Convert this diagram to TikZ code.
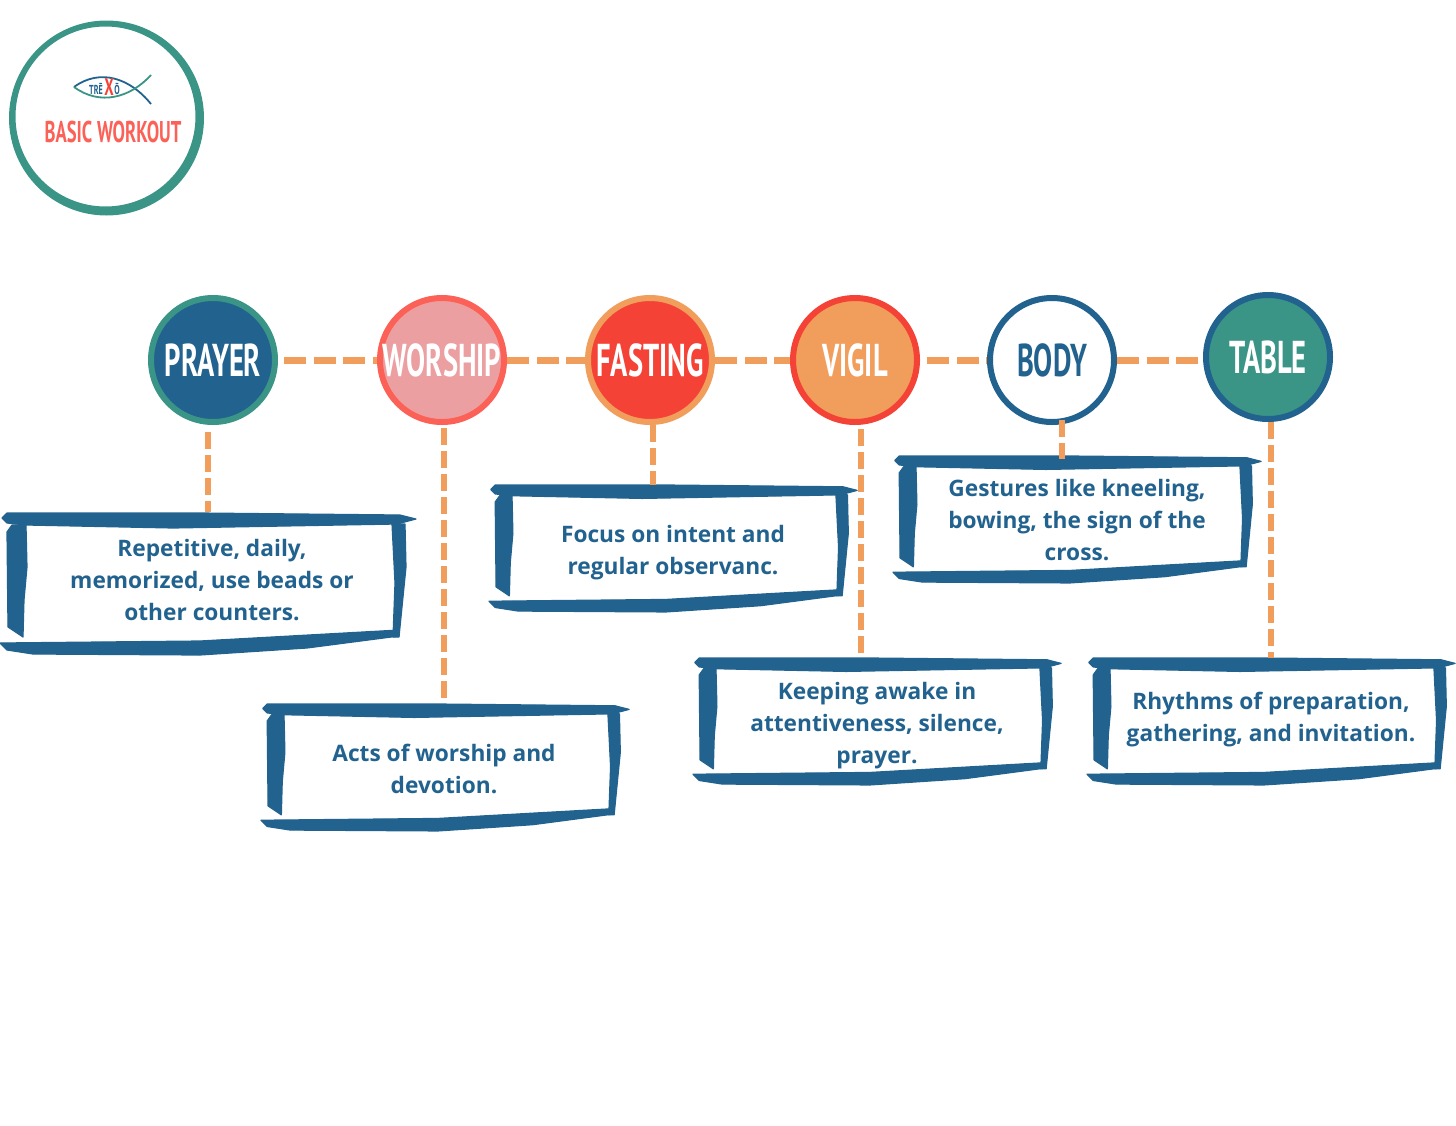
\documentclass[tikz,border=0pt]{standalone}
\usepackage{fontspec}
\setmainfont{Open Sans}
\newfontfamily\brushfont[FakeStretch=0.62]{PT Sans}
\definecolor{navy}{HTML}{22628F}
\definecolor{teal}{HTML}{3A9587}
\definecolor{coral}{HTML}{FB6157}
\definecolor{blush}{HTML}{EC9FA0}
\definecolor{flame}{HTML}{F44336}
\definecolor{amber}{HTML}{F19D5B}
\tikzset{
	stop/.style={circle, line width=6pt, minimum size=124pt, inner sep=0pt, text=white, font=\brushfont\bfseries\fontsize{46}{46}\selectfont},
	note/.style={inner sep=0pt, minimum width=300pt, align=center, text=navy, font=\bfseries\fontsize{22.7}{32}\selectfont},
	link/.style={color=amber, line width=7pt, dash pattern=on 22pt off 7.5pt},
	drop/.style={color=amber, line width=6pt, dash pattern=on 17pt off 6pt},
}
\def\brushframe(#1)(#2:#3){
	\begin{scope}[shift={(#1)}, xscale=#2, yscale=#3, fill=navy, draw=navy, line width=1.2pt, line join=round]
		\filldraw (2,5) -- (7,0) -- (200,0) -- (400,2) -- (416,6) -- (397,11) -- (173,15) -- (26,12) -- (7,10) -- cycle;
		\filldraw (12,12) -- (7,19) -- (8,114) -- (23,124) -- (24,87) -- (27,54) -- (26,12) -- cycle;
		\filldraw (392,11) -- (405,11) -- (406,54) -- (399,124) -- (393,124) -- (395,70) -- cycle;
		\filldraw (0,130) -- (200,128) -- (399,117) -- (399,123) -- (307,135) -- (200,142) -- (33,141) -- (7,137) -- cycle;
	\end{scope}
}

\begin{document}
\begin{tikzpicture}[x=1pt, y=-1pt]
	\useasboundingbox (0,0) rectangle (1456,1125);

	% badge
	\fill[teal, even odd rule] (106.5,118) circle (97.5) (105.5,116.5) circle (90);
	\draw[navy, line width=1.8pt] (74,87) .. controls (100,68) and (130,78) .. (151,104);
	\draw[teal, line width=1.8pt] (74,87) .. controls (100,106) and (130,98) .. (151,75);
	\node (trefish) [text=navy, font=\brushfont\bfseries\fontsize{13}{13}\selectfont] at (96,89) {TRĒ};
	\node (xfish) [text=flame, font=\brushfont\bfseries\fontsize{24}{24}\selectfont] at (109,87) {X};
	\node (ofish) [text=navy, font=\brushfont\bfseries\fontsize{13}{13}\selectfont] at (117,89) {Ō};
	\node (badge) [text=coral, font=\brushfont\bfseries\fontsize{30}{30}\selectfont] at (113,132) {BASIC WORKOUT};

	% stops
	\node (prayer) [stop, draw=teal, fill=navy] at (213,360) {PRAYER};
	\node (worship) [stop, draw=coral, fill=blush] at (442,360) {WORSHIP};
	\node (fasting) [stop, draw=amber, fill=flame] at (650,360) {FASTING};
	\node (vigil) [stop, draw=flame, fill=amber] at (855,360) {VIGIL};
	\node (body) [stop, draw=navy, fill=white, text=navy] at (1052,360) {BODY};
	\node (table) [stop, draw=navy, fill=teal] at (1268,357) {TABLE};

	% notes
	\brushframe(0,513)(1:1)
	\brushframe(261,704)(0.885:0.894)
	\brushframe(489,485)(0.885:0.894)
	\brushframe(693,658)(0.885:0.894)
	\brushframe(893,456)(0.885:0.894)
	\brushframe(1087,658)(0.885:0.894)

	\node (prayernote) [note, minimum height=136pt] at (212,580) {Repetitive, daily,\\memorized, use beads or\\other counters.};
	\node (worshipnote) [note, minimum height=132pt] at (444,769) {Acts of worship and\\devotion.};
	\node (fastingnote) [note, minimum height=136pt] at (673,553) {Focus on intent and\\regular observanc.};
	\node (vigilnote) [note, minimum height=136pt] at (877,726) {Keeping awake in\\attentiveness, silence,\\prayer.};
	\node (bodynote) [note, minimum height=122pt] at (1077,520) {Gestures like kneeling,\\bowing, the sign of the\\cross.};
	\node (tablenote) [note, minimum height=124pt] at (1271,720) {Rhythms of preparation,\\gathering, and invitation.};

	% links
	\draw[link, shorten <=6pt] (prayer.east) -- (worship.west);
	\draw[link] (worship.east) -- (fasting.west);
	\draw[link] (fasting.east) -- (vigil.west);
	\draw[link, shorten <=7pt] (vigil.east) -- (body.west);
	\draw[link] (body.east) -- (body.east -| table.west);

	\draw[drop] ([xshift=-5pt,yshift=-7pt]prayer.south) -- ([xshift=-4pt]prayernote.north);
	\draw[drop] ([xshift=2pt,yshift=-3pt]worship.south) -- (worshipnote.north);
	\draw[drop] ([xshift=3pt]fasting.south) -- ([xshift=-20pt]fastingnote.north);
	\draw[drop] ([xshift=6pt,yshift=-4pt]vigil.south) -- ([xshift=-16pt]vigilnote.north);
	\draw[drop] ([xshift=10pt,yshift=5pt]body.south) -- ([xshift=-15pt]bodynote.north);
	\draw[drop] ([xshift=3pt]table.south) -- (tablenote.north);
\end{tikzpicture}
\end{document}
